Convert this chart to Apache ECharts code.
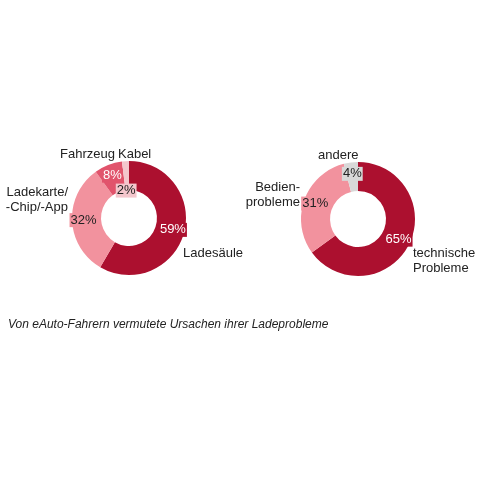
<!DOCTYPE html>
<html><head><meta charset="utf-8">
<script src="https://cdn.jsdelivr.net/npm/echarts@6/dist/echarts.min.js"></script>
<style>html,body{margin:0;padding:0;background:#fff}#c{width:480px;height:480px}</style>
</head><body><div id="c"></div>
<script>
// Left donut: Ursachen
const leftNames = ['Ladesäule', 'Ladekarte/\n-Chip/-App', 'Fahrzeug', 'Kabel'];
const leftValues = [59, 32, 8, 2];
const leftColors = ['#AC102F', '#F2929E', '#E1546C', '#F4C6CC'];
const leftTextColors = ['#fff', '#222', '#fff', '#222'];
// Right donut
const rightNames = ['technische\nProbleme', 'Bedien-\nprobleme', 'andere'];
const rightValues = [65, 31, 4];
const rightColors = ['#AC102F', '#F2929E', '#D8D8D8'];
const rightTextColors = ['#fff', '#222', '#222'];
const caption = 'Von eAuto-Fahrern vermutete Ursachen ihrer Ladeprobleme';

function buildData(names, values, colors, tcolors) {
  return values.map((v, i) => ({
    name: names[i], value: v,
    itemStyle: { color: colors[i] },
    label: { color: tcolors[i], backgroundColor: colors[i] }
  }));
}
const font = 'Liberation Sans, Arial, sans-serif';
function pie(center, data, adjust) {
  return {
    type: 'pie', center: center, radius: [28, 57], startAngle: 90, clockwise: true,
    avoidLabelOverlap: false, silent: true,
    label: { show: true, position: 'inside', formatter: '{c}%', fontFamily: font, fontSize: 13, padding: [1, 1, 0, 1] },
    labelLine: { show: false },
    labelLayout: function (p) { return adjust[p.dataIndex] || {}; },
    data: data
  };
}
const chart = echarts.init(document.getElementById('c'));
const nameStyle = { fontFamily: font, fontSize: 13, fill: '#222', lineHeight: 15 };
function txt(x, y, t, align) {
  return { type: 'text', x: x, y: y, style: Object.assign({ text: t, align: align || 'left', verticalAlign: 'middle' }, nameStyle) };
}
chart.setOption({
  animation: false,
  series: [
    pie([129, 218], buildData(leftNames, leftValues, leftColors, leftTextColors), { 3: { dx: 0, dy: 18 } }),
    pie([358, 219], buildData(rightNames, rightValues, rightColors, rightTextColors), {})
  ],
  graphic: [
    txt(60, 154, leftNames[2]),
    txt(118, 154, leftNames[3]),
    txt(68, 200, leftNames[1], 'right'),
    txt(183, 253, leftNames[0]),
    txt(318, 155, rightNames[2]),
    txt(300, 195, rightNames[1], 'right'),
    txt(413, 261, rightNames[0]),
    { type: 'text', x: 8, y: 325, style: { text: caption, fontFamily: font, fontSize: 12, fontStyle: 'italic', fill: '#222', verticalAlign: 'middle' } }
  ]
});
</script></body></html>
